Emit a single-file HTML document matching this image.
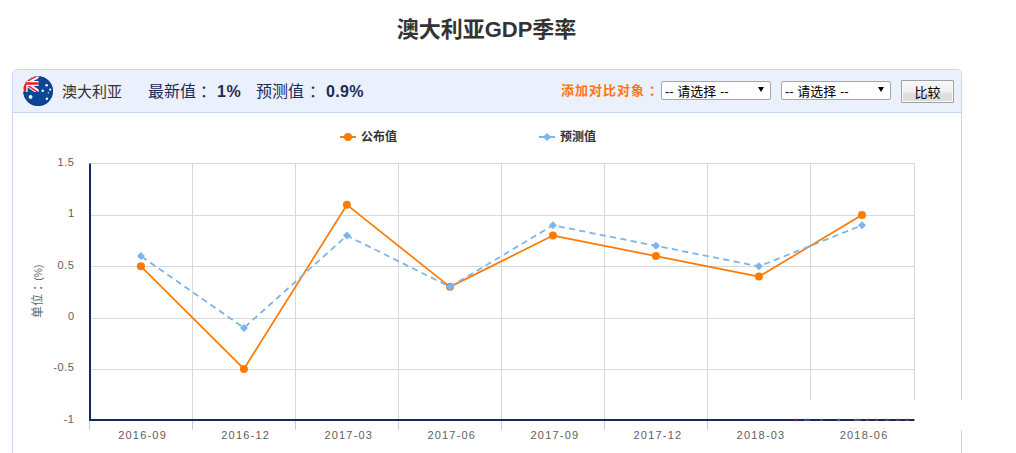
<!DOCTYPE html>
<html><head><meta charset="utf-8">
<style>
*{margin:0;padding:0;box-sizing:border-box}
html,body{width:1016px;height:453px;overflow:hidden;background:#fff}
body{position:relative;font-family:"Liberation Sans","Noto Sans CJK SC",sans-serif;color:#333}
.abs{position:absolute;white-space:nowrap}
#title{left:0;width:973px;top:15px;text-align:center;font-size:22px;font-weight:bold;color:#333;line-height:30px}
#panel{left:12px;top:69px;width:950px;height:400px;border:1px solid #c9d3f4;border-radius:5px 5px 0 0;background:#fff}
#head{left:13px;top:70px;width:948px;height:43px;background:#ebf0fd;border-bottom:1px solid #c9d3f4;border-radius:4px 4px 0 0}
.ht{font-size:15px;color:#1d2957;line-height:20px;top:82px}
.cn{position:absolute;top:0}
.hv{font-size:16px;font-weight:bold;color:#1f2a56;line-height:20px;top:82px}
#add{left:561px;top:81px;font-size:13px;letter-spacing:1px;font-weight:bold;color:#ff7410;line-height:20px}
.sel{top:81px;width:110px;height:19px;border:1px solid #a6a6a6;border-radius:2px;background:#fff;font-size:13px;line-height:17px;padding-left:3px;padding-top:1px;color:#000}
.sel .arr{position:absolute;left:96px;top:5px;width:0;height:0;border-left:3px solid transparent;border-right:3px solid transparent;border-top:5px solid #000}
#btn{left:901px;top:80px;width:53px;height:23px;border:1px solid #a0a0a0;border-radius:1px;background:linear-gradient(#f6f6f6,#f0f0f0 50%,#dedede 62%,#dcdcdc);box-shadow:inset 0 0 0 1px #fbfbfb;font-size:13px;line-height:22px;padding-top:1px;text-align:center;color:#000}
svg text{font-family:"Liberation Sans","Noto Sans CJK SC",sans-serif}
.xl text{letter-spacing:1.2px}
</style></head><body>
<div id="title" class="abs">澳大利亚GDP季率</div>
<div id="panel" class="abs"></div>
<div id="head" class="abs"></div>

<svg class="abs" style="left:0;top:0" width="1016" height="453" viewBox="0 0 1016 453">
  <defs>
    <clipPath id="fc"><circle cx="38.1" cy="91.1" r="14.9"/></clipPath>
    <clipPath id="cant"><path d="M10 70H38.7V92H10Z"/></clipPath>
  </defs>
  <circle cx="38.1" cy="91.1" r="14.9" fill="#0b4794"/>
  <circle cx="38.1" cy="91.1" r="14.45" fill="none" stroke="#0b3b87" stroke-width="0.9"/>
  <g clip-path="url(#fc)">
    <g clip-path="url(#cant)">
      <rect x="10" y="70" width="28.7" height="22" fill="#0b4794"/>
      <path d="M25 83L40 75M25 83L40 93M25 83L10 75M25 83L10 91" stroke="#fff" stroke-width="4.4"/>
      <path d="M25 82.3L40 74.4M25 83.7L40 93.6M25 83L10 75" stroke="#f0182a" stroke-width="1.4"/>
      <path d="M10 83.5H38.7M25.2 70V92" stroke="#fff" stroke-width="4.8"/>
      <path d="M10 83.4H38.7M25 70V92" stroke="#f0182a" stroke-width="2.5"/>
    </g>
    <circle cx="30.6" cy="96.9" r="1.9" fill="#fff"/>
    <circle cx="46.6" cy="85.3" r="1.2" fill="#fff"/>
    <circle cx="50.2" cy="89.6" r="1.1" fill="#fff"/>
    <circle cx="42.7" cy="90.8" r="1.2" fill="#fff"/>
    <circle cx="48.4" cy="92.8" r="0.7" fill="#cfd8ea"/>
    <circle cx="46.85" cy="98.7" r="1.2" fill="#fff"/>
  </g>
</svg>

<div class="abs ht" style="left:62px;color:#333">澳大利亚</div>
<div class="abs ht" style="left:148px;font-size:16px">最新值<span class="cn" style="left:52px">：</span></div>
<div class="abs hv" style="left:217px;letter-spacing:0.5px">1%</div>
<div class="abs ht" style="left:256px;font-size:16px">预测值<span class="cn" style="left:53px">：</span></div>
<div class="abs hv" style="left:326px;letter-spacing:0.3px">0.9%</div>
<div id="add" class="abs">添加对比对象<span class="cn" style="left:88px">：</span></div>
<div class="abs sel" style="left:661px">-- 请选择 --<span class="arr"></span></div>
<div class="abs sel" style="left:781px">-- 请选择 --<span class="arr"></span></div>
<div id="btn" class="abs">比较</div>

<svg class="abs" style="left:0;top:0" width="1016" height="453" viewBox="0 0 1016 453" id="chart">
  <!-- grid -->
  <g stroke="#d8d8d8" stroke-width="1" fill="none">
    <path d="M90 163.5H915M90 215.5H915M90 266.5H915M90 318.5H915M90 369.5H915"/>
    <path d="M192.5 163V420M295.5 163V420M398.5 163V420M501.5 163V420M604.5 163V420M707.5 163V420M810.5 163V400M914.5 163V400"/>
  </g>
  <rect x="955" y="400" width="10" height="30" fill="#fff"/>
  <!-- ticks -->
  <g stroke="#c0d0e0" stroke-width="1">
    <path d="M89.5 421V430M192.5 421V430M295.5 421V430M398.5 421V430M501.5 421V430M604.5 421V430M707.5 421V430"/>
  </g>
  <!-- axes -->
  <path d="M90 163.5V421" stroke="#15285f" stroke-width="2"/>
  <path d="M89 420H914.5" stroke="#15285f" stroke-width="2"/>
  <g opacity="0.35">
    <rect x="795" y="418.5" width="3" height="3" fill="#e04848"/>
    <rect x="804" y="418.5" width="6" height="2.5" fill="#6a8fd0"/>
    <rect x="820" y="418.5" width="3" height="2.5" fill="#6a8fd0"/>
    <rect x="837" y="418.5" width="3" height="3.5" fill="#d8b070"/>
    <rect x="854" y="418.5" width="7" height="2.5" fill="#c89a60"/>
    <rect x="866" y="418.5" width="3" height="2.5" fill="#c87a58"/>
    <rect x="875" y="418.5" width="3" height="2.5" fill="#c87a58"/>
    <rect x="885" y="418.5" width="4" height="2.5" fill="#c86858"/>
    <rect x="896" y="418.5" width="4" height="2.5" fill="#c85a58"/>
    <rect x="905" y="418.5" width="4" height="2.5" fill="#c85a58"/>
  </g>
  <g fill="#ffe2c4" opacity="0.6">
    <rect x="850" y="428" width="7" height="1"/><rect x="861" y="428" width="4" height="1"/><rect x="870" y="428" width="6" height="1"/><rect x="882" y="428" width="4" height="1"/>
  </g>
  <!-- y labels -->
  <g font-size="11" fill="#606060" text-anchor="end" letter-spacing="0.6">
    <text x="74.6" y="165.7">1.5</text>
    <text x="74.6" y="217.1">1</text>
    <text x="74.6" y="268.5">0.5</text>
    <text x="74.6" y="320">0</text>
    <text x="74.6" y="371.4">-0.5</text>
    <text x="74.6" y="422.5">-1</text>
  </g>
  <text transform="translate(42,318) rotate(-90)" font-size="12" fill="#666"><tspan x="0">单位</tspan><tspan x="27">：</tspan><tspan x="37.2" font-size="10.4">(%)</tspan></text>
  <!-- x labels -->
  <g class="xl" font-size="11" fill="#606060" text-anchor="middle">
    <text x="142.6" y="439">2016-09</text>
    <text x="245.7" y="439">2016-12</text>
    <text x="348.8" y="439">2017-03</text>
    <text x="451.8" y="439">2017-06</text>
    <text x="554.9" y="439">2017-09</text>
    <text x="657.9" y="439">2017-12</text>
    <text x="761.0" y="439">2018-03</text>
    <text x="864.1" y="439">2018-06</text>
  </g>
  <!-- legend -->
  <path d="M340 137H356" stroke="#ff7a00" stroke-width="2"/>
  <circle cx="348" cy="137" r="4" fill="#ff7a00"/>
  <text x="361" y="141" font-size="12" font-weight="bold" fill="#333">公布值</text>
  <path d="M539 137H555" stroke="#7cb5ec" stroke-width="2"/>
  <path d="M547 133L551 137L547 141L543 137Z" fill="#7cb5ec"/>
  <text x="560" y="141" font-size="12" font-weight="bold" fill="#333">预测值</text>
  <!-- series -->
  <polyline id="po" fill="none" stroke="#ff7a00" stroke-width="1.7" stroke-linejoin="round" points="140.92,266.35 243.93,368.95 346.93,204.79 449.94,286.87 552.95,235.57 655.96,256.09 758.96,276.61 861.97,215.05"/>
  <g id="mo" fill="#ff7a00"><circle cx="140.92" cy="266.35" r="4"/><circle cx="243.93" cy="368.95" r="4"/><circle cx="346.93" cy="204.79" r="4"/><circle cx="449.94" cy="286.87" r="4"/><circle cx="552.95" cy="235.57" r="4"/><circle cx="655.96" cy="256.09" r="4"/><circle cx="758.96" cy="276.61" r="4"/><circle cx="861.97" cy="215.05" r="4"/></g>
  <polyline id="pb" fill="none" stroke="#7cb5ec" stroke-width="1.8" stroke-dasharray="6.2,4.3" stroke-dashoffset="-0.7" points="140.92,256.09 243.93,327.91 346.93,235.57 449.94,286.87 552.95,225.31 655.96,245.83 758.96,266.35 861.97,225.31"/>
  <g id="mb" fill="#7cb5ec"><path d="M140.92 252.09L144.92 256.09L140.92 260.09L136.92 256.09Z"/><path d="M243.93 323.91L247.93 327.91L243.93 331.91L239.93 327.91Z"/><path d="M346.93 231.57L350.93 235.57L346.93 239.57L342.93 235.57Z"/><path d="M449.94 282.87L453.94 286.87L449.94 290.87L445.94 286.87Z"/><path d="M552.95 221.31L556.95 225.31L552.95 229.31L548.95 225.31Z"/><path d="M655.96 241.83L659.96 245.83L655.96 249.83L651.96 245.83Z"/><path d="M758.96 262.35L762.96 266.35L758.96 270.35L754.96 266.35Z"/><path d="M861.97 221.31L865.97 225.31L861.97 229.31L857.97 225.31Z"/></g>
</svg>
</body></html>
